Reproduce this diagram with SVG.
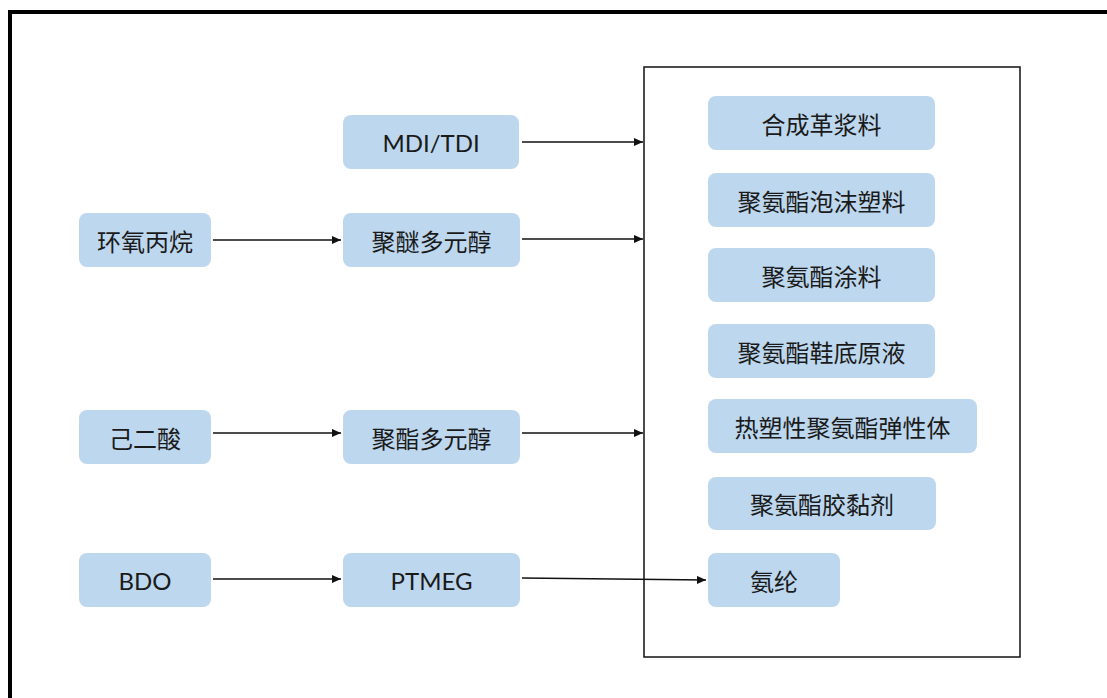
<svg xmlns="http://www.w3.org/2000/svg" width="1107" height="698" viewBox="0 0 1107 698">
<style>
.n rect{fill:#BDD7EE;}
.n text{font-family:"Noto Sans CJK SC","Noto Sans",sans-serif;font-size:24px;fill:#1a1a1a;text-anchor:middle;dominant-baseline:central;}
.n text.l{font-family:Lato,"Liberation Sans",sans-serif;}
.c line{stroke:#111;stroke-width:1.5;marker-end:url(#ah);}
</style>
<defs>
<marker id="ah" viewBox="0 0 9 8" refX="9" refY="4" markerWidth="9" markerHeight="8" orient="auto" markerUnits="userSpaceOnUse"><path d="M0,0 L9,4 L0,8 Z" fill="#111"/></marker>
</defs>
<rect width="1107" height="698" fill="#fff"/>
<rect x="10" y="12" width="1120" height="720" fill="none" stroke="#000" stroke-width="4"/>
<rect id="product-box" x="644" y="67" width="376" height="590" fill="none" stroke="#111" stroke-width="1.5"/>
<g id="mdi" class="n"><rect x="343" y="115" width="176" height="54" rx="8"/><text class="l" x="431" y="142">MDI/TDI</text></g>
<g id="huanyang" class="n"><rect x="79" y="213" width="132" height="54" rx="8"/><text x="145" y="240">环氧丙烷</text></g>
<g id="jumi" class="n"><rect x="343" y="213" width="177" height="54" rx="8"/><text x="431.5" y="240">聚醚多元醇</text></g>
<g id="jiersuan" class="n"><rect x="79" y="410" width="132" height="54" rx="8"/><text x="145" y="437">己二酸</text></g>
<g id="juzhi" class="n"><rect x="343" y="410" width="177" height="54" rx="8"/><text x="431.5" y="437">聚酯多元醇</text></g>
<g id="bdo" class="n"><rect x="79" y="553" width="132" height="54" rx="8"/><text class="l" x="145" y="580">BDO</text></g>
<g id="ptmeg" class="n"><rect x="343" y="553" width="177" height="54" rx="8"/><text class="l" x="431.5" y="580">PTMEG</text></g>
<g id="hechengge" class="n"><rect x="708" y="96" width="227" height="54" rx="8"/><text x="821.5" y="123">合成革浆料</text></g>
<g id="paomo" class="n"><rect x="708" y="173" width="227" height="54" rx="8"/><text x="821.5" y="200">聚氨酯泡沫塑料</text></g>
<g id="tuliao" class="n"><rect x="708" y="248" width="227" height="54" rx="8"/><text x="821.5" y="275">聚氨酯涂料</text></g>
<g id="xiedi" class="n"><rect x="708" y="324" width="227" height="54" rx="8"/><text x="821.5" y="351">聚氨酯鞋底原液</text></g>
<g id="tpu" class="n"><rect x="708" y="399" width="269" height="54" rx="8"/><text x="842.5" y="426">热塑性聚氨酯弹性体</text></g>
<g id="jiaonian" class="n"><rect x="708" y="477" width="228" height="53" rx="8"/><text x="822" y="503.5">聚氨酯胶黏剂</text></g>
<g id="anlun" class="n"><rect x="708" y="553" width="132" height="54" rx="8"/><text x="774" y="580">氨纶</text></g>
<g id="connectors" class="c">
<line x1="522" y1="142" x2="643" y2="142"/>
<line x1="213" y1="240" x2="341" y2="240"/>
<line x1="522" y1="239" x2="643" y2="239"/>
<line x1="213" y1="433" x2="341" y2="433"/>
<line x1="522" y1="433" x2="643" y2="433"/>
<line x1="213" y1="579" x2="341" y2="579"/>
<line x1="522" y1="578" x2="706" y2="580"/>
</g>
</svg>
